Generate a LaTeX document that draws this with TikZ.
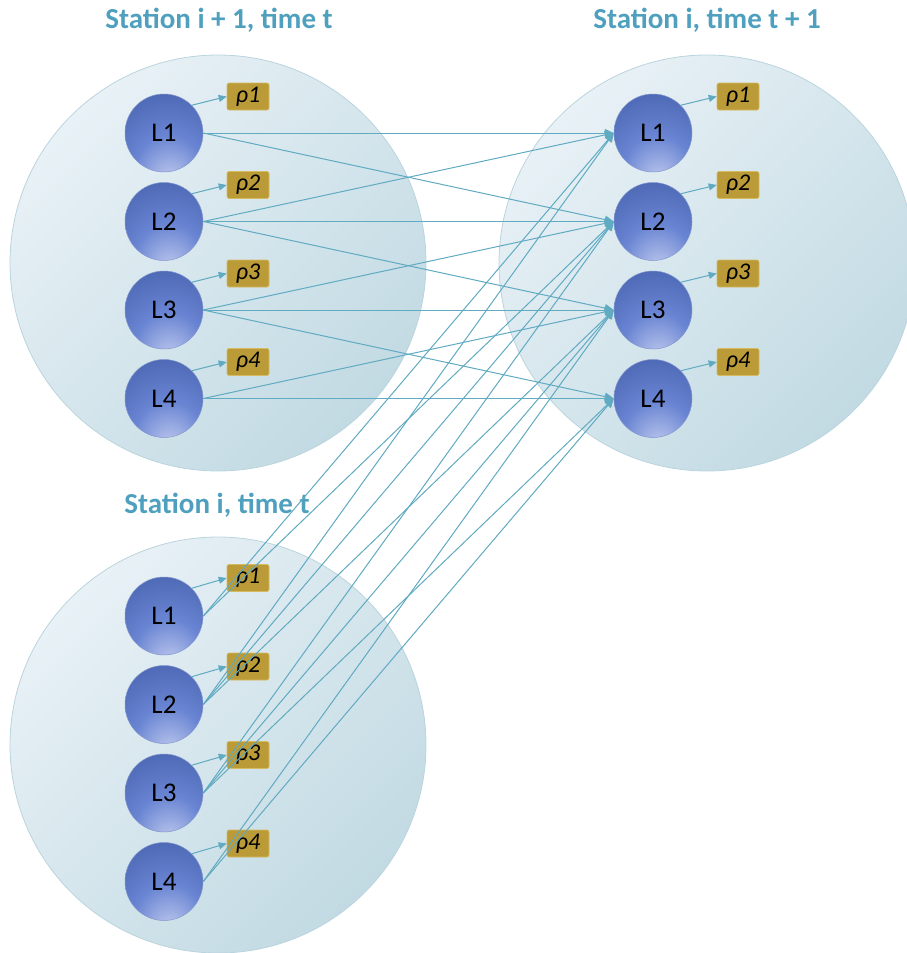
\documentclass[tikz,border=0pt]{standalone}
\usepackage{fontspec}
\setmainfont{Carlito}
\usetikzlibrary{arrows.meta}

\definecolor{edgeblue}{RGB}{96,170,194}
\definecolor{titleblue}{RGB}{78,160,190}
\definecolor{poolLight}{RGB}{232,241,246}
\definecolor{poolDark}{RGB}{194,218,227}
\definecolor{poolEdge}{RGB}{186,212,222}
\definecolor{ballLight}{RGB}{196,205,240}
\definecolor{ballMid}{RGB}{104,132,210}
\definecolor{ballDark}{RGB}{60,86,160}
\definecolor{ballEdge}{RGB}{130,150,205}
\definecolor{gold}{RGB}{186,155,55}
\definecolor{goldEdge}{RGB}{214,186,96}

% bright spot near the lower part of each level ball
\pgfdeclareradialshading{ballshade}{\pgfpoint{4bp}{-32bp}}{%
  color(0bp)=(ballLight); color(22bp)=(ballMid); color(55bp)=(ballDark); color(80bp)=(ballDark)}

\tikzset{
  pool/.style={shading=axis, top color=poolLight, bottom color=poolDark,
    shading angle=45, draw=poolEdge, line width=0.8pt},
  ball/.style={circle, minimum size=78pt, inner sep=0pt, shading=ballshade,
    draw=ballEdge, line width=0.5pt, font=\fontsize{27}{27}\selectfont},
  rhobox/.style={rectangle, rounded corners=2pt, minimum width=42pt,
    minimum height=27pt, inner sep=0pt, fill=gold, draw=goldEdge, line width=0.6pt,
    font=\itshape\fontsize{24}{24}\selectfont},
  title/.style={font=\bfseries\fontsize{29}{29}\selectfont, text=titleblue},
  edge/.style={draw=edgeblue, line width=1pt, -{Triangle[length=9pt,width=8pt]}},
  rhoarrow/.style={draw=edgeblue, line width=1pt, -{Triangle[length=8pt,width=7pt]}},
}

\begin{document}
\begin{tikzpicture}[x=1pt, y=-1pt]
\useasboundingbox (0,0) rectangle (906,953);

% station pools
\path[pool] (218,263) circle[radius=208pt];
\path[pool] (707,263) circle[radius=208pt];
\path[pool] (218,745) circle[radius=208pt];

% titles
\node[title] (ta) at (219,20) {Station i + 1, time t};
\node[title] (tb) at (707,20) {Station i, time t + 1};
\node[title] (tc) at (217,505) {Station i, time t};

% level balls and their rho boxes
\foreach \k in {1,...,4}{
  \pgfmathsetmacro{\ya}{133+88.5*(\k-1)}
  \pgfmathsetmacro{\yc}{616+88.5*(\k-1)}
  \node[ball] (a\k) at (164,\ya) {L\k};
  \node[ball] (b\k) at (653,\ya) {L\k};
  \node[ball] (c\k) at (164,\yc) {L\k};
  \node[rhobox] (ra\k) at (248,\ya-36.5) {ρ\k};
  \node[rhobox] (rb\k) at (738,\ya-36.5) {ρ\k};
  \node[rhobox] (rc\k) at (248,\yc-38) {ρ\k};
  \draw[rhoarrow] (a\k.45) -- (ra\k.west);
  \draw[rhoarrow] (b\k.45) -- (rb\k.west);
  \draw[rhoarrow] (c\k.45) -- (rc\k.west);
}

% transitions into station i at time t+1: each level moves at most one step
\foreach \s in {a,c}{
  \foreach \i/\js in {1/{1,2}, 2/{1,2,3}, 3/{2,3,4}, 4/{3,4}}{
    \foreach \j in \js{
      \draw[edge] (\s\i.east) -- (b\j.west);
    }
  }
}
\end{tikzpicture}
\end{document}
